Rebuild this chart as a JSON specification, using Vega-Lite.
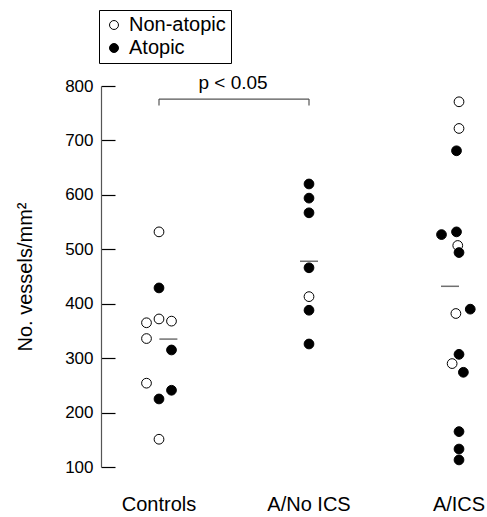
{
  "$schema": "https://vega.github.io/schema/vega-lite/v6.json",
  "width": 386,
  "height": 381,
  "autosize": "none",
  "padding": {"left": 101, "top": 86, "right": 0, "bottom": 50},
  "background": "white",
  "config": {
    "view": {"stroke": null},
    "font": "Liberation Sans",
    "axis": {"labelFont": "Liberation Sans", "titleFont": "Liberation Sans", "labelColor": "black", "titleColor": "black", "grid": false}
  },
  "datasets": {
    "pts": [
      {"group": "Controls", "atopy": "Non-atopic", "value": 532, "jitter": 0},
      {"group": "Controls", "atopy": "Atopic", "value": 429, "jitter": 0},
      {"group": "Controls", "atopy": "Non-atopic", "value": 365, "jitter": -1},
      {"group": "Controls", "atopy": "Non-atopic", "value": 372, "jitter": 0},
      {"group": "Controls", "atopy": "Non-atopic", "value": 368, "jitter": 1},
      {"group": "Controls", "atopy": "Non-atopic", "value": 336, "jitter": -1},
      {"group": "Controls", "atopy": "Atopic", "value": 315, "jitter": 1},
      {"group": "Controls", "atopy": "Non-atopic", "value": 254, "jitter": -1},
      {"group": "Controls", "atopy": "Atopic", "value": 241, "jitter": 1},
      {"group": "Controls", "atopy": "Atopic", "value": 225, "jitter": 0},
      {"group": "Controls", "atopy": "Non-atopic", "value": 151, "jitter": 0},
      {"group": "A/No ICS", "atopy": "Atopic", "value": 620, "jitter": 0},
      {"group": "A/No ICS", "atopy": "Atopic", "value": 594, "jitter": 0},
      {"group": "A/No ICS", "atopy": "Atopic", "value": 567, "jitter": 0},
      {"group": "A/No ICS", "atopy": "Atopic", "value": 466, "jitter": 0},
      {"group": "A/No ICS", "atopy": "Non-atopic", "value": 413, "jitter": 0},
      {"group": "A/No ICS", "atopy": "Atopic", "value": 388, "jitter": 0},
      {"group": "A/No ICS", "atopy": "Atopic", "value": 326, "jitter": 0},
      {"group": "A/ICS", "atopy": "Non-atopic", "value": 771, "jitter": 0},
      {"group": "A/ICS", "atopy": "Non-atopic", "value": 722, "jitter": 0},
      {"group": "A/ICS", "atopy": "Atopic", "value": 681, "jitter": -0.2},
      {"group": "A/ICS", "atopy": "Atopic", "value": 527, "jitter": -1.4},
      {"group": "A/ICS", "atopy": "Atopic", "value": 532, "jitter": -0.2},
      {"group": "A/ICS", "atopy": "Non-atopic", "value": 507, "jitter": -0.1},
      {"group": "A/ICS", "atopy": "Atopic", "value": 494, "jitter": 0},
      {"group": "A/ICS", "atopy": "Non-atopic", "value": 382, "jitter": -0.25},
      {"group": "A/ICS", "atopy": "Atopic", "value": 390, "jitter": 0.9},
      {"group": "A/ICS", "atopy": "Atopic", "value": 307, "jitter": 0},
      {"group": "A/ICS", "atopy": "Non-atopic", "value": 290, "jitter": -0.55},
      {"group": "A/ICS", "atopy": "Atopic", "value": 274, "jitter": 0.35},
      {"group": "A/ICS", "atopy": "Atopic", "value": 165, "jitter": 0},
      {"group": "A/ICS", "atopy": "Atopic", "value": 133, "jitter": 0},
      {"group": "A/ICS", "atopy": "Atopic", "value": 113, "jitter": 0}
    ],
    "means": [
      {"group": "Controls", "mean": 335, "jitter": 0.75},
      {"group": "A/No ICS", "mean": 478, "jitter": 0},
      {"group": "A/ICS", "mean": 432, "jitter": -0.72}
    ],
    "bracket": [
      {"from": "Controls", "to": "A/No ICS", "top": 776, "foot": 764, "label": "p < 0.05", "labelY": 795}
    ]
  },
  "layer": [
    {
      "data": {"name": "pts"},
      "mark": {"type": "circle", "size": 95, "stroke": "black", "strokeWidth": 1, "opacity": 1},
      "encoding": {
        "x": {
          "field": "group", "type": "nominal",
          "scale": {"domain": ["Controls", "A/No ICS", "A/ICS"], "paddingInner": 0.6667, "paddingOuter": 0.12, "align": 0.9167},
          "axis": {"title": null, "domain": false, "ticks": false, "labelAngle": 0, "labelFontSize": 20, "labelPadding": 27, "labelBaseline": "top"}
        },
        "xOffset": {"field": "jitter", "type": "quantitative", "scale": {"domain": [-2, 2]}},
        "y": {
          "field": "value", "type": "quantitative",
          "scale": {"domain": [100, 800], "nice": false, "zero": false},
          "axis": {
            "title": "No. vessels/mm²", "titleFontSize": 20, "titleFontWeight": "normal", "titlePadding": 29,
            "values": [100, 200, 300, 400, 500, 600, 700, 800],
            "labelFontSize": 17, "labelPadding": 22, "tickSize": -14, "tickColor": "black", "domainColor": "#555", "tickWidth": 1.2, "domainWidth": 1.2
          }
        },
        "fill": {
          "field": "atopy", "type": "nominal",
          "scale": {"domain": ["Non-atopic", "Atopic"], "range": ["white", "black"]},
          "legend": {
            "title": null, "orient": "none", "legendX": -2, "legendY": -76,
            "strokeColor": "black", "padding": 5, "rowPadding": 3, "symbolOffset": 0,
            "labelFontSize": 20, "labelFont": "Liberation Sans", "labelColor": "black", "labelOffset": 5,
            "symbolType": "circle", "symbolSize": 80, "symbolStrokeColor": "black", "symbolStrokeWidth": 1
          }
        }
      }
    },
    {
      "data": {"name": "means"},
      "mark": {"type": "tick", "orient": "horizontal", "size": 18, "thickness": 1.5, "color": "#333"},
      "encoding": {
        "x": {"field": "group", "type": "nominal"},
        "xOffset": {"field": "jitter", "type": "quantitative"},
        "y": {"field": "mean", "type": "quantitative"}
      }
    },
    {
      "data": {"name": "bracket"},
      "mark": {"type": "rule", "color": "#555", "strokeWidth": 1.2},
      "encoding": {
        "x": {"field": "from", "type": "nominal"},
        "x2": {"field": "to"},
        "y": {"field": "top", "type": "quantitative"}
      }
    },
    {
      "data": {"name": "bracket"},
      "mark": {"type": "rule", "color": "#555", "strokeWidth": 1.2},
      "encoding": {
        "x": {"field": "from", "type": "nominal"},
        "y": {"field": "top", "type": "quantitative"},
        "y2": {"field": "foot"}
      }
    },
    {
      "data": {"name": "bracket"},
      "mark": {"type": "rule", "color": "#555", "strokeWidth": 1.2},
      "encoding": {
        "x": {"field": "to", "type": "nominal"},
        "y": {"field": "top", "type": "quantitative"},
        "y2": {"field": "foot"}
      }
    },
    {
      "data": {"name": "bracket"},
      "mark": {"type": "text", "fontSize": 19, "font": "Liberation Sans", "color": "black", "baseline": "alphabetic", "dx": 74},
      "encoding": {
        "x": {"field": "from", "type": "nominal"},
        "y": {"field": "labelY", "type": "quantitative"},
        "text": {"field": "label"}
      }
    }
  ]
}
